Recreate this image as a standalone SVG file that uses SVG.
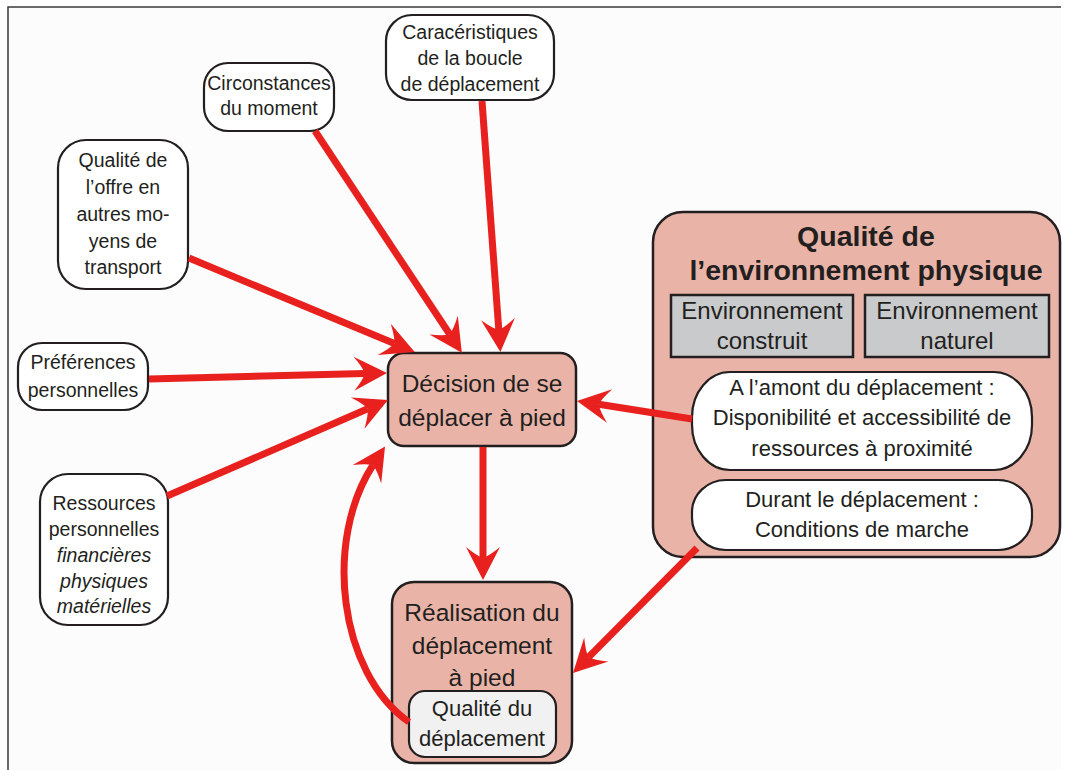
<svg xmlns="http://www.w3.org/2000/svg" width="1067" height="770" viewBox="0 0 1067 770">
<defs>
<style>
text{font-family:"Liberation Sans",Arial,sans-serif;fill:#231f20;text-anchor:middle}
.n{fill:#ffffff;stroke:#231f20;stroke-width:2.2}
.p{fill:#e9b4a7;stroke:#231f20;stroke-width:2.5}
.g{fill:#c9cacc;stroke:#231f20;stroke-width:2.5}
.q{fill:#f1f1f1;stroke:#231f20;stroke-width:2.2}
.a{fill:none;stroke:#e8211f;stroke-width:7;marker-end:url(#ah)}
.s{font-size:19.5px}
.m{font-size:24.5px}
.t{font-size:22px}
.e{font-size:24px}
.i{font-style:italic}
</style>
<marker id="ah" markerUnits="userSpaceOnUse" markerWidth="40" markerHeight="40" viewBox="-12 -20 40 40" refX="2" refY="0" orient="auto" overflow="visible">
<path d="M24,0 L-9,-17 Q0,-6 2,0 Q0,6 -9,17 Z" fill="#e8211f"/>
</marker>
</defs>
<rect x="0" y="0" width="1067" height="770" fill="#ffffff"/>
<rect x="8" y="7" width="1053" height="770" fill="#fcfcfc"/>
<path d="M8,770 L8,7 L1061,7" fill="none" stroke="#3a3a3a" stroke-width="1.5"/>

<g id="caracteristiques">
<rect class="n" x="386" y="15" width="168" height="85" rx="26"/>
<text class="s" x="470" y="39">Caracéristiques</text>
<text class="s" x="470" y="65">de la boucle</text>
<text class="s" x="470" y="91">de déplacement</text>
</g>

<g id="circonstances">
<rect class="n" x="204" y="63" width="130" height="68" rx="24"/>
<text class="s" x="269" y="90">Circonstances</text>
<text class="s" x="269" y="115">du moment</text>
</g>

<g id="qualite-offre">
<rect class="n" x="58" y="140" width="130" height="149" rx="28"/>
<text class="s" x="123" y="167">Qualité de</text>
<text class="s" x="123" y="194">l’offre en</text>
<text class="s" x="123" y="221">autres mo-</text>
<text class="s" x="123" y="248">yens de</text>
<text class="s" x="123" y="274">transport</text>
</g>

<g id="preferences">
<rect class="n" x="18" y="343" width="130" height="67" rx="24"/>
<text class="s" x="83" y="369">Préférences</text>
<text class="s" x="83" y="397">personnelles</text>
</g>

<g id="ressources">
<rect class="n" x="40" y="474" width="128" height="151" rx="28"/>
<text class="s" x="104" y="510">Ressources</text>
<text class="s" x="104" y="536">personnelles</text>
<text class="s i" x="104" y="562">financières</text>
<text class="s i" x="104" y="588">physiques</text>
<text class="s i" x="104" y="613">matérielles</text>
</g>

<g id="decision">
<rect class="p" x="388" y="353" width="188" height="93" rx="16"/>
<text class="m" x="482" y="392">Décision de se</text>
<text class="m" x="482" y="426">déplacer à pied</text>
</g>

<g id="realisation">
<rect class="p" x="392" y="582" width="180" height="181" rx="22"/>
<text class="m" x="482" y="621">Réalisation du</text>
<text class="m" x="482" y="654">déplacement</text>
<text class="m" x="482" y="686">à pied</text>
<g id="qualite-deplacement">
<rect class="q" x="409" y="691" width="147" height="66" rx="16"/>
<text class="t" x="482" y="716">Qualité du</text>
<text class="t" x="482" y="746">déplacement</text>
</g>
</g>

<g id="environnement">
<rect class="p" x="653" y="212" width="407" height="345" rx="30"/>
<text x="866" y="246" font-size="28.5" font-weight="bold">Qualité de</text>
<text x="866" y="280" font-size="28.5" font-weight="bold">l’environnement physique</text>
<g id="env-construit">
<rect class="g" x="671" y="295" width="182" height="62"/>
<text class="e" x="762" y="319">Environnement</text>
<text class="e" x="762" y="349">construit</text>
</g>
<g id="env-naturel">
<rect class="g" x="865" y="295" width="184" height="62"/>
<text class="e" x="957" y="319">Environnement</text>
<text class="e" x="957" y="349">naturel</text>
</g>
<g id="amont">
<rect class="n" x="692" y="372" width="340" height="98" rx="38" ry="45"/>
<text class="t" x="862" y="395">A l’amont du déplacement :</text>
<text class="t" x="862" y="425">Disponibilité et accessibilité de</text>
<text class="t" x="862" y="456">ressources à proximité</text>
</g>
<g id="durant">
<rect class="n" x="692" y="480" width="340" height="70" rx="34" ry="32"/>
<text class="t" x="862" y="507">Durant le déplacement :</text>
<text class="t" x="862" y="537">Conditions de marche</text>
</g>
</g>

<g id="connectors">
<path class="a" d="M482,101 L498.8,330"/>
<path class="a" d="M315,131 L449.7,334.3"/>
<path class="a" d="M189,258 L394.4,343.6"/>
<path class="a" d="M149,379 L365,373.5"/>
<path class="a" d="M167,496 L367.8,408.8"/>
<path class="a" d="M692,419 L598.7,404.3"/>
<path class="a" d="M483,447 L483,558"/>
<path class="a" d="M697,548 L588.5,657.3"/>
<path class="a" d="M409,722 C 338,672 324,540 373,465"/>
</g>
</svg>
